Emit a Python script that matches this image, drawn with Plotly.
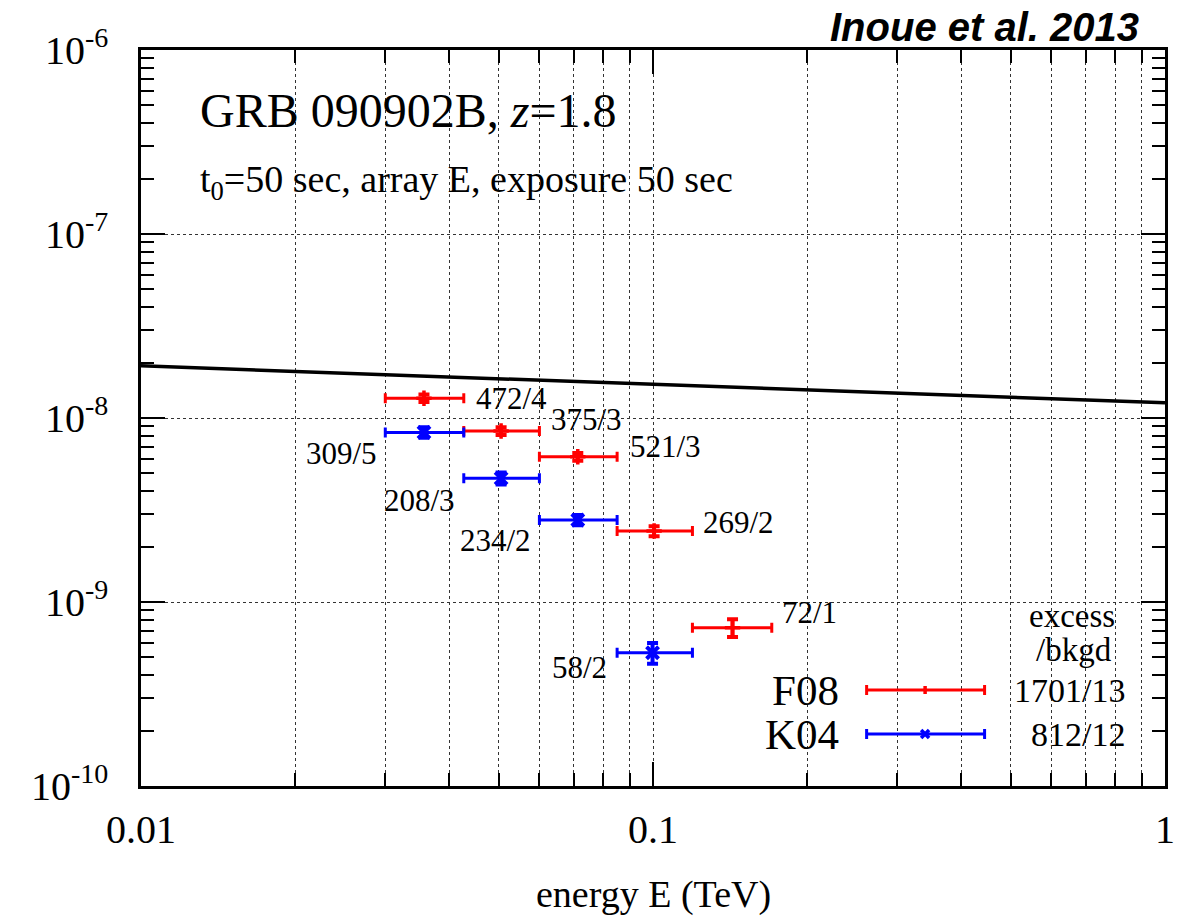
import numpy as np
import plotly.graph_objects as go

# ---- data -------------------------------------------------------------
# F08 (red): energy bin centres and edges [TeV], flux, flux error, excess/bkgd
f08_e = [0.0357, 0.0505, 0.0713, 0.1005, 0.143]
f08_lo = [0.0300, 0.0427, 0.0600, 0.0851, 0.1194]
f08_hi = [0.0427, 0.0600, 0.0851, 0.1194, 0.1706]
f08_flux = [1.28e-8, 8.5e-9, 6.16e-9, 2.43e-9, 7.25e-10]
f08_err = [0.06e-8, 0.42e-9, 0.30e-9, 0.15e-9, 0.80e-10]
f08_lbl = ["472/4", "375/3", "521/3", "269/2", "72/1"]

# K04 (blue)
k04_e = [0.0357, 0.0505, 0.0713, 0.0998]
k04_lo = [0.0300, 0.0427, 0.0600, 0.0851]
k04_hi = [0.0427, 0.0600, 0.0851, 0.1194]
k04_flux = [8.35e-9, 4.70e-9, 2.79e-9, 5.30e-10]
k04_err = [0.55e-9, 0.35e-9, 0.18e-9, 0.68e-10]
k04_lbl = ["309/5", "208/3", "234/2", "58/2"]

# power-law sensitivity/spectrum line
line_e = [0.01, 1.0]
line_flux = [1.92e-8, 1.21e-8]

x_ticks = [0.01, 0.1, 1]
x_ticktext = ["0.01", "0.1", "1"]
y_ticks = [1e-10, 1e-9, 1e-8, 1e-7, 1e-6]
y_ticktext = ["10<sup>-10</sup>", "10<sup>-9</sup>", "10<sup>-8</sup>",
              "10<sup>-7</sup>", "10<sup>-6</sup>"]

legend_rows = [("F08", "1701/13", "red"), ("K04", "812/12", "blue")]

# ---- geometry helpers (pixel -> paper) ---------------------------------
W, H = 1187, 919
L, R, T, B = 141, 13, 50, 133
PW, PH = W - L - R, H - T - B


def px(x):
    return (x - L) / PW


def py(y):
    return (H - B - y) / PH


SERIF = "Liberation Serif, Times New Roman, serif"
RED = "#ff0000"
BLUE = "#0000ff"

fig = go.Figure()

fig.add_trace(go.Scatter(
    x=line_e, y=line_flux, mode="lines",
    line=dict(color="black", width=3.5), showlegend=False, hoverinfo="skip"))


def add_series(e, lo, hi, flux, err, color, symbol, msize, mwidth):
    fig.add_trace(go.Scatter(
        x=e, y=flux, mode="markers",
        marker=dict(symbol=symbol, size=msize, color=color,
                    line=dict(color=color, width=mwidth)),
        error_x=dict(type="data", symmetric=False,
                     array=[h - c for h, c in zip(hi, e)],
                     arrayminus=[c - l for c, l in zip(e, lo)],
                     color=color, thickness=3, width=5),
        error_y=dict(type="data", array=err, color=color,
                     thickness=4, width=5.5),
        showlegend=False))


add_series(f08_e, f08_lo, f08_hi, f08_flux, f08_err, RED, "cross-thin", 11, 3.5)
add_series(k04_e, k04_lo, k04_hi, k04_flux, k04_err, BLUE, "x-thin", 12, 4)

annotations = []
LBL_FONT = dict(family=SERIF, size=31, color="black")
# excess/bkgd labels next to each bin
f08_shift = [(10, 0), (10, 11), (11, 10), (9, 9), (8, 15)]
for hi, f, txt, (dx, dy) in zip(f08_hi, f08_flux, f08_lbl, f08_shift):
    annotations.append(dict(x=np.log10(hi), y=np.log10(f), text=txt,
                            xanchor="left", yanchor="middle", showarrow=False,
                            xshift=dx, yshift=dy, font=LBL_FONT))
k04_shift = [(-6, -21), (-7, -22), (-6, -20), (-8, -15)]
for lo, f, txt, (dx, dy) in zip(k04_lo, k04_flux, k04_lbl, k04_shift):
    annotations.append(dict(x=np.log10(lo), y=np.log10(f), text=txt,
                            xanchor="right", yanchor="middle", showarrow=False,
                            xshift=dx, yshift=dy, font=LBL_FONT))

# headings
annotations.append(dict(xref="paper", yref="paper", x=px(198), y=py(110),
                        text="GRB 090902B, <i>z</i>=1.8", showarrow=False,
                        xanchor="left", yanchor="middle",
                        font=dict(family=SERIF, size=48, color="black")))
annotations.append(dict(xref="paper", yref="paper", x=px(198), y=py(182),
                        text="t<sub>0</sub>=50 sec, array E, exposure 50 sec",
                        showarrow=False, xanchor="left", yanchor="middle",
                        font=dict(family=SERIF, size=38, color="black")))
annotations.append(dict(xref="paper", yref="paper", x=px(1150), y=py(27),
                        text="<b><i>Inoue et al. 2013</i></b>", showarrow=False,
                        xanchor="right", yanchor="middle",
                        font=dict(family="Liberation Sans, Arial, sans-serif",
                                  size=40, color="black")))
annotations.append(dict(xref="paper", yref="paper", x=0.5, y=py(918),
                        text="energy E (TeV)", showarrow=False,
                        xanchor="center", yanchor="bottom",
                        font=dict(family=SERIF, size=38, color="black")))

# key
shapes = [dict(type="rect", xref="paper", yref="paper",
               x0=px(765), x1=px(1143), y0=py(785), y1=py(641),
               fillcolor="white", line=dict(width=0), layer="between")]
annotations.append(dict(xref="paper", yref="paper", x=px(1080), y=py(616),
                        text="excess", showarrow=False, xanchor="center",
                        yanchor="middle",
                        font=dict(family=SERIF, size=33, color="black")))
annotations.append(dict(xref="paper", yref="paper", x=px(1082), y=py(650),
                        text="/bkgd", showarrow=False, xanchor="center",
                        yanchor="middle",
                        font=dict(family=SERIF, size=33, color="black")))
for i, (name, val, col) in enumerate(legend_rows):
    yy = 690 + 44 * i
    c = RED if col == "red" else BLUE
    annotations.append(dict(xref="paper", yref="paper", x=px(847), y=py(yy),
                            text=name, showarrow=False, xanchor="right",
                            yanchor="middle",
                            font=dict(family=SERIF, size=43, color="black")))
    annotations.append(dict(xref="paper", yref="paper", x=px(1136), y=py(yy),
                            text=val, showarrow=False, xanchor="right",
                            yanchor="middle",
                            font=dict(family=SERIF, size=34, color="black")))
    x0, x1, xm = 873, 992, 932
    ln = dict(color=c, width=3)
    shapes.append(dict(type="line", xref="paper", yref="paper",
                       x0=px(x0), x1=px(x1), y0=py(yy), y1=py(yy), line=ln))
    for xe in (x0, x1):
        shapes.append(dict(type="line", xref="paper", yref="paper",
                           x0=px(xe), x1=px(xe), y0=py(yy - 5), y1=py(yy + 5),
                           line=ln))
    if col == "red":
        shapes.append(dict(type="line", xref="paper", yref="paper",
                           x0=px(xm), x1=px(xm), y0=py(yy - 4), y1=py(yy + 4),
                           line=dict(color=c, width=3.5)))
    else:
        for s in (1, -1):
            shapes.append(dict(type="line", xref="paper", yref="paper",
                               x0=px(xm - 4), x1=px(xm + 4),
                               y0=py(yy - 4 * s), y1=py(yy + 4 * s),
                               line=dict(color=c, width=3.5)))

x_minor = [m * 10.0 ** d for d in (-2, -1) for m in range(2, 10)]
y_minor = [m * 10.0 ** d for d in (-10, -9, -8, -7) for m in range(2, 10)]

axis_common = dict(showline=True, linecolor="black", linewidth=2.5,
                   mirror="allticks", ticks="inside", ticklen=24,
                   tickwidth=2, tickcolor="black", zeroline=False,
                   griddash="dot", gridcolor="#333333", gridwidth=1.4)

fig.update_xaxes(type="log", range=[-2, 0], tickmode="array",
                 tickvals=x_ticks, ticktext=x_ticktext, showgrid=True,
                 tickfont=dict(family=SERIF, size=40, color="black"),
                 ticklabelstandoff=6,
                 minor=dict(tickmode="array", tickvals=x_minor,
                            ticks="inside", ticklen=13, tickwidth=2,
                            tickcolor="black", showgrid=True,
                            griddash="dot", gridcolor="#333333",
                            gridwidth=1.4),
                 **axis_common)
fig.update_yaxes(type="log", range=[-10, -6], tickmode="array",
                 tickvals=y_ticks, ticktext=y_ticktext, showgrid=True,
                 tickfont=dict(family=SERIF, size=40, color="black"),
                 ticklabelstandoff=22,
                 minor=dict(tickmode="array", tickvals=y_minor,
                            ticks="inside", ticklen=13, tickwidth=2,
                            tickcolor="black", showgrid=False),
                 **axis_common)

fig.update_layout(width=W, height=H,
                  margin=dict(l=L, r=R, t=T, b=B),
                  paper_bgcolor="white", plot_bgcolor="white",
                  annotations=annotations, shapes=shapes,
                  showlegend=False)

fig.write_html("out.html")
